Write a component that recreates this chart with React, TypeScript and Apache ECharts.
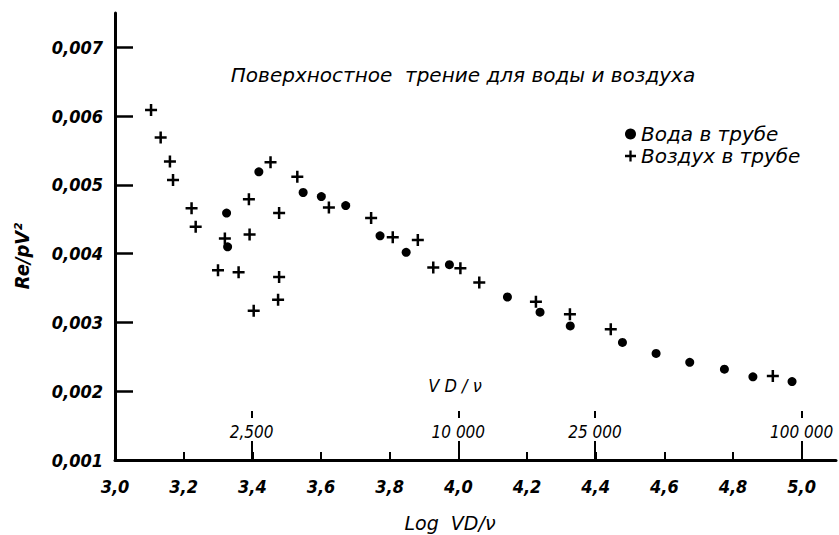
import React, { useEffect, useRef } from "react";
import * as echarts from "echarts";

// Water in pipe: [log VD/nu, Re/rhoV^2]
const waterX = [3.325, 3.328, 3.419, 3.548, 3.601, 3.672, 3.772, 3.848, 3.974, 4.143, 4.238, 4.326, 4.478, 4.576, 4.674, 4.775, 4.858, 4.972];
const waterY = [0.00459, 0.0041, 0.00519, 0.00489, 0.00483, 0.0047, 0.00426, 0.00402, 0.00384, 0.00337, 0.00315, 0.00295, 0.00271, 0.00255, 0.00242, 0.00232, 0.00221, 0.00214];

// Air in pipe
const airX = [3.105, 3.133, 3.16, 3.169, 3.223, 3.235, 3.3, 3.32, 3.36, 3.39, 3.392, 3.404, 3.453, 3.478, 3.478, 3.475, 3.531, 3.623, 3.746, 3.809, 3.882, 3.927, 4.006, 4.061, 4.226, 4.325, 4.444, 4.916];
const airY = [0.00609, 0.00569, 0.00534, 0.00507, 0.00466, 0.00439, 0.00376, 0.00422, 0.00373, 0.00479, 0.00428, 0.00317, 0.00533, 0.00459, 0.00366, 0.00333, 0.00512, 0.00467, 0.00452, 0.00424, 0.0042, 0.0038, 0.00379, 0.00358, 0.0033, 0.00312, 0.0029, 0.00222];

const xTicks = [3.0, 3.2, 3.4, 3.6, 3.8, 4.0, 4.2, 4.4, 4.6, 4.8, 5.0];
const yTicks = [0.001, 0.002, 0.003, 0.004, 0.005, 0.006, 0.007];
const vdTicks = [2500, 10000, 25000, 100000];
const vdLabels = ["2,500", "10 000", "25 000", "100 000"];

const seriesNames = ["Вода в трубе", "Воздух в трубе"];
const titleText = "Поверхностное  трение для воды и воздуха";

const FONT = "'DejaVu Sans Condensed', 'Liberation Sans Narrow', 'DejaVu Sans', sans-serif";
const WIDE = "'DejaVu Sans', 'Noto Sans', sans-serif";
const PLUS = "path://M4.75,0H7.25V4.75H12V7.25H7.25V12H4.75V7.25H0V4.75H4.75Z";

export default function App() {
  const ref = useRef<HTMLDivElement>(null);
  useEffect(() => {
    if (!ref.current) return;
    const chart = echarts.init(ref.current, undefined, { renderer: "svg" });
    const vdLog = vdTicks.map((v) => Math.log10(v));
    const baseX = { type: "value", min: 3.0, max: 5.1, gridIndex: 0 } as any;
    chart.setOption({
      animation: false,
      backgroundColor: "#ffffff",
      grid: { left: 115, right: 3, top: 13, bottom: 75 },
      xAxis: [
        {
          ...baseX,
          position: "bottom",
          axisLine: { show: true, onZero: false, lineStyle: { color: "#000", width: 3 } },
          axisTick: { show: true, inside: true, length: 8, customValues: xTicks, lineStyle: { color: "#000", width: 2 } },
          axisLabel: {
            show: true,
            customValues: xTicks,
            margin: 17,
            color: "#000",
            fontFamily: FONT,
            fontStyle: "italic",
            fontWeight: "bold",
            fontSize: 18,
            formatter: (v: number) => v.toFixed(1).replace(".", ","),
          },
          splitLine: { show: false },
        },
        {
          ...baseX,
          position: "bottom",
          axisLine: { show: false, onZero: false },
          axisTick: { show: true, inside: true, length: 19, customValues: vdLog, lineStyle: { color: "#000", width: 2 } },
          axisLabel: {
            show: true,
            inside: true,
            customValues: vdLog,
            margin: 20,
            color: "#000",
            fontFamily: FONT,
            fontStyle: "italic",
            fontSize: 17,
            formatter: (v: number) => {
              const i = vdLog.findIndex((t) => Math.abs(t - v) < 1e-6);
              return i >= 0 ? vdLabels[i] : "";
            },
          },
          splitLine: { show: false },
        },
        {
          ...baseX,
          position: "bottom",
          offset: -42,
          axisLine: { show: true, onZero: false, lineStyle: { color: "#000", width: 0, opacity: 0 } },
          axisTick: { show: true, inside: true, length: 7, customValues: vdLog, lineStyle: { color: "#000", width: 2 } },
          axisLabel: { show: false },
          splitLine: { show: false },
        },
      ],
      yAxis: {
        type: "value",
        min: 0.001,
        max: 0.0075,
        axisLine: { show: true, onZero: false, lineStyle: { color: "#000", width: 3 } },
        axisTick: { show: true, inside: true, length: 18, customValues: yTicks, lineStyle: { color: "#000", width: 2.5 } },
        axisLabel: {
          show: true,
          customValues: yTicks,
          margin: 12,
          color: "#000",
          fontFamily: FONT,
          fontStyle: "italic",
          fontWeight: "bold",
          fontSize: 18,
          formatter: (v: number) => v.toFixed(3).replace(".", ","),
        },
        splitLine: { show: false },
      },
      legend: {
        orient: "vertical",
        left: 620,
        top: 119,
        itemWidth: 11,
        itemHeight: 11,
        itemGap: 2,
        textStyle: { color: "#000", fontFamily: WIDE, fontStyle: "italic", fontSize: 20 },
        data: [
          { name: seriesNames[0], icon: "circle" },
          { name: seriesNames[1], icon: PLUS },
        ],
      },
      series: [
        {
          name: seriesNames[0],
          type: "scatter",
          symbol: "circle",
          symbolSize: 9,
          itemStyle: { color: "#000", opacity: 1 },
          data: waterX.map((x, i) => [x, waterY[i]]),
        },
        {
          name: seriesNames[1],
          type: "scatter",
          symbol: PLUS,
          symbolSize: 12,
          itemStyle: { color: "#000", opacity: 1 },
          data: airX.map((x, i) => [x, airY[i]]),
        },
      ],
      graphic: [
        {
          type: "text",
          x: 463,
          y: 75,
          style: {
            text: titleText,
            fill: "#000",
            font: `italic 20px ${WIDE}`,
            align: "center",
            verticalAlign: "middle",
          },
        },
        {
          type: "text",
          x: 455,
          y: 385,
          style: {
            text: "V D / ν",
            fill: "#000",
            font: `italic 18px ${FONT}`,
            align: "center",
            verticalAlign: "middle",
          },
        },
        {
          type: "text",
          x: 450,
          y: 523,
          style: {
            text: "Log  VD/ν",
            fill: "#000",
            font: `italic 19px ${WIDE}`,
            align: "center",
            verticalAlign: "middle",
          },
        },
        {
          type: "text",
          x: 22,
          y: 256,
          rotation: Math.PI / 2,
          style: {
            text: "Re/pV²",
            fill: "#000",
            font: `italic bold 20px ${FONT}`,
            align: "center",
            verticalAlign: "middle",
          },
        },
      ],
    });
    return () => chart.dispose();
  }, []);
  return (
    <div
      ref={ref}
      style={{ position: "fixed", left: 0, top: 0, width: "839px", height: "535px", background: "#fff" }}
    />
  );
}
